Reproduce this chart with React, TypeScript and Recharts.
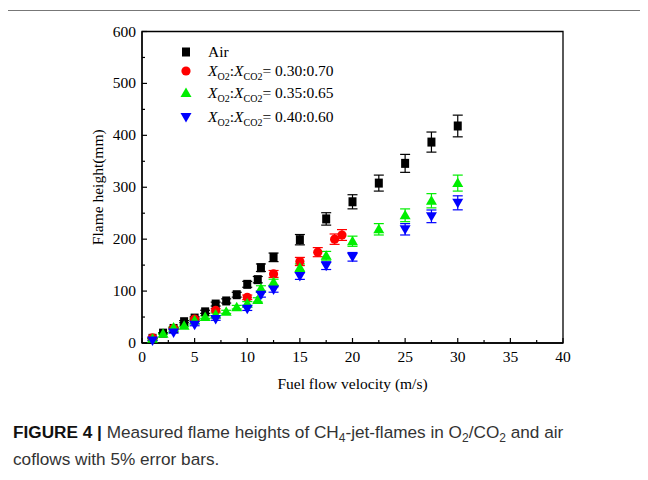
import {
  ScatterChart,
  Scatter,
  XAxis,
  YAxis,
  ErrorBar,
  Legend,
  ReferenceArea,
} from "recharts";

// fuel flow velocity (m/s) vs flame height (mm)
const airData = [
  { v: 1, h: 9 },
  { v: 2, h: 19 },
  { v: 3, h: 28 },
  { v: 4, h: 41 },
  { v: 5, h: 48 },
  { v: 6, h: 60 },
  { v: 7, h: 75 },
  { v: 8, h: 81 },
  { v: 9, h: 93 },
  { v: 10, h: 113 },
  { v: 11, h: 122 },
  { v: 11.3, h: 145 },
  { v: 12.5, h: 165 },
  { v: 15, h: 199 },
  { v: 17.5, h: 239 },
  { v: 20, h: 272 },
  { v: 22.5, h: 308 },
  { v: 25, h: 346 },
  { v: 27.5, h: 387 },
  { v: 30, h: 418 },
];

const o2030Data = [
  { v: 1, h: 10 },
  { v: 3, h: 28 },
  { v: 5, h: 46 },
  { v: 7, h: 63 },
  { v: 10, h: 88 },
  { v: 12.5, h: 133 },
  { v: 15, h: 157 },
  { v: 16.7, h: 175 },
  { v: 18.3, h: 200 },
  { v: 19, h: 208 },
];

const o2035Data = [
  { v: 1, h: 8 },
  { v: 2, h: 18 },
  { v: 3, h: 30 },
  { v: 4, h: 33 },
  { v: 5, h: 44 },
  { v: 6, h: 50 },
  { v: 7, h: 55 },
  { v: 8, h: 60 },
  { v: 9, h: 69 },
  { v: 10, h: 76 },
  { v: 11, h: 83 },
  { v: 11.3, h: 105 },
  { v: 12.5, h: 117 },
  { v: 15, h: 145 },
  { v: 17.5, h: 168 },
  { v: 20, h: 196 },
  { v: 22.5, h: 219 },
  { v: 25, h: 246 },
  { v: 27.5, h: 274 },
  { v: 30, h: 308 },
];

const o2040Data = [
  { v: 1, h: 5 },
  { v: 3, h: 20 },
  { v: 5, h: 35 },
  { v: 7, h: 46 },
  { v: 10, h: 66 },
  { v: 11.3, h: 93 },
  { v: 12.5, h: 103 },
  { v: 15, h: 129 },
  { v: 17.5, h: 149 },
  { v: 20, h: 166 },
  { v: 25, h: 219 },
  { v: 27.5, h: 244 },
  { v: 30, h: 270 },
];

const xTicks = [0, 2.5, 5, 7.5, 10, 12.5, 15, 17.5, 20, 22.5, 25, 27.5, 30, 32.5, 35, 37.5, 40];
const yTicks = [0, 50, 100, 150, 200, 250, 300, 350, 400, 450, 500, 550, 600];

const serif = "'Liberation Serif', 'Times New Roman', serif";
const errPct = 0.05; // 5% error bars, per caption

type Kind = "square" | "circle" | "up" | "down";

const Marker = ({ cx, cy, kind, fill }: { cx: number; cy: number; kind: Kind; fill: string }) => {
  if (kind === "square") return <rect x={cx - 4} y={cy - 4.5} width={8} height={9} fill={fill} />;
  if (kind === "circle") return <circle cx={cx} cy={cy} r={4.6} fill={fill} />;
  if (kind === "up")
    return <polygon points={`${cx - 5.5},${cy + 4} ${cx + 5.5},${cy + 4} ${cx},${cy - 5.5}`} fill={fill} />;
  return <polygon points={`${cx - 5.5},${cy - 4} ${cx + 5.5},${cy - 4} ${cx},${cy + 5.5}`} fill={fill} />;
};

const shapeOf = (kind: Kind, fill: string) => (p: any) => <Marker cx={p.cx} cy={p.cy} kind={kind} fill={fill} />;

const XTick = (p: any) => {
  const major = p.payload.value % 5 === 0;
  return (
    <g>
      <line x1={p.x} x2={p.x} y1={p.y} y2={p.y - (major ? 5 : 3)} stroke="#000" strokeWidth={1.2} />
      {major && (
        <text x={p.x} y={p.y + 19} textAnchor="middle" fontFamily={serif} fontSize={15.5} fill="#000">
          {p.payload.value}
        </text>
      )}
    </g>
  );
};

const YTick = (p: any) => {
  const major = p.payload.value % 100 === 0;
  return (
    <g>
      <line x1={p.x} x2={p.x + (major ? 5 : 3)} y1={p.y} y2={p.y} stroke="#000" strokeWidth={1.2} />
      {major && (
        <text x={p.x - 6} y={p.y + 5} textAnchor="end" fontFamily={serif} fontSize={15.5} fill="#000">
          {p.payload.value}
        </text>
      )}
    </g>
  );
};

const Ratio = ({ value }: { value: string }) => (
  <span>
    <i>X</i>
    <sub style={{ fontSize: 10, verticalAlign: "-4px", lineHeight: 0 }}>O2</sub>:<i>X</i>
    <sub style={{ fontSize: 10, verticalAlign: "-4px", lineHeight: 0 }}>CO2</sub>= {value}
  </span>
);

const legendRows: { kind: Kind; fill: string; top: number; label: any }[] = [
  { kind: "square", fill: "#000", top: 0, label: "Air" },
  { kind: "circle", fill: "#ff0000", top: 19, label: <Ratio value="0.30:0.70" /> },
  { kind: "up", fill: "#00ee00", top: 41, label: <Ratio value="0.35:0.65" /> },
  { kind: "down", fill: "#0000ff", top: 65, label: <Ratio value="0.40:0.60" /> },
];

const LegendBox = () => (
  <div style={{ position: "relative", width: 180, height: 85, fontFamily: serif, fontSize: 15.5, color: "#000" }}>
    {legendRows.map((r, i) => (
      <div key={i} style={{ position: "absolute", left: 0, top: r.top, height: 16, display: "flex", alignItems: "center" }}>
        <svg width={16} height={16} style={{ display: "block" }}>
          <Marker cx={8} cy={8} kind={r.kind} fill={r.fill} />
        </svg>
        <span style={{ marginLeft: 14, lineHeight: "16px", whiteSpace: "nowrap" }}>{r.label}</span>
      </div>
    ))}
  </div>
);

export default function App() {
  return (
    <div style={{ position: "relative", width: 632, height: 464 }}>
      <div
        style={{
          position: "absolute",
          left: -2,
          top: 2,
          width: 639,
          height: 470,
          borderTop: "1px solid #777",
          borderLeft: "1px solid #777",
          borderRight: "1px solid #777",
          boxSizing: "border-box",
        }}
      />
      <div style={{ position: "absolute", left: 0, top: 0 }}>
        <ScatterChart width={632} height={400} margin={{ top: 23.5, right: 77, left: 0, bottom: 0 }}>
          <XAxis
            type="number"
            dataKey="v"
            domain={[0, 40]}
            ticks={xTicks}
            interval={0}
            height={65}
            tickSize={0}
            tickMargin={0}
            tickLine={false}
            tick={<XTick />}
            axisLine={{ stroke: "#000", strokeWidth: 1.3 }}
            label={{
              value: "Fuel flow velocity (m/s)",
              position: "center",
              dy: 8,
              fontFamily: serif,
              fontSize: 15.5,
              fill: "#000",
            }}
          />
          <YAxis
            type="number"
            dataKey="h"
            domain={[0, 600]}
            ticks={yTicks}
            interval={0}
            width={134}
            tickSize={0}
            tickMargin={0}
            tickLine={false}
            tick={<YTick />}
            axisLine={{ stroke: "#000", strokeWidth: 1.3 }}
            label={{
              value: "Flame height(mm)",
              angle: -90,
              position: "center",
              dx: 22,
              fontFamily: serif,
              fontSize: 15.5,
              fill: "#000",
            }}
          />
          <ReferenceArea x1={0} x2={40} y1={0} y2={600} fill="none" stroke="#000" strokeWidth={1.3} />
          <Legend
            layout="horizontal"
            verticalAlign="middle"
            align="center"
            content={<LegendBox />}
            wrapperStyle={{ left: 170, top: 36, width: 180 }}
          />
          <Scatter name="Air" data={airData} shape={shapeOf("square", "#000")} isAnimationActive={false}>
            <ErrorBar dataKey={(d: any) => d.h * errPct} direction="y" width={5} stroke="#000" strokeWidth={1.2} />
          </Scatter>
          <Scatter name="0.30:0.70" data={o2030Data} shape={shapeOf("circle", "#ff0000")} isAnimationActive={false}>
            <ErrorBar dataKey={(d: any) => d.h * errPct} direction="y" width={5} stroke="#ff0000" strokeWidth={1.2} />
          </Scatter>
          <Scatter name="0.35:0.65" data={o2035Data} shape={shapeOf("up", "#00ee00")} isAnimationActive={false}>
            <ErrorBar dataKey={(d: any) => d.h * errPct} direction="y" width={5} stroke="#00ee00" strokeWidth={1.2} />
          </Scatter>
          <Scatter name="0.40:0.60" data={o2040Data} shape={shapeOf("down", "#0000ff")} isAnimationActive={false}>
            <ErrorBar dataKey={(d: any) => d.h * errPct} direction="y" width={5} stroke="#0000ff" strokeWidth={1.2} />
          </Scatter>
        </ScatterChart>
      </div>
      <div
        style={{
          position: "absolute",
          left: 5,
          top: 411,
          fontFamily: "'Liberation Sans', Arial, sans-serif",
          fontSize: 17.2,
          lineHeight: "27px",
          color: "#333",
          whiteSpace: "nowrap",
        }}
      >
        <b style={{ color: "#111" }}>FIGURE 4</b> <b style={{ color: "#111" }}>|</b> Measured flame heights of CH
        <sub style={{ fontSize: 12, lineHeight: 0 }}>4</sub>-jet-flames in O<sub style={{ fontSize: 12, lineHeight: 0 }}>2</sub>/CO
        <sub style={{ fontSize: 12, lineHeight: 0 }}>2</sub> and air
        <br />
        coflows with 5% error bars.
      </div>
    </div>
  );
}
